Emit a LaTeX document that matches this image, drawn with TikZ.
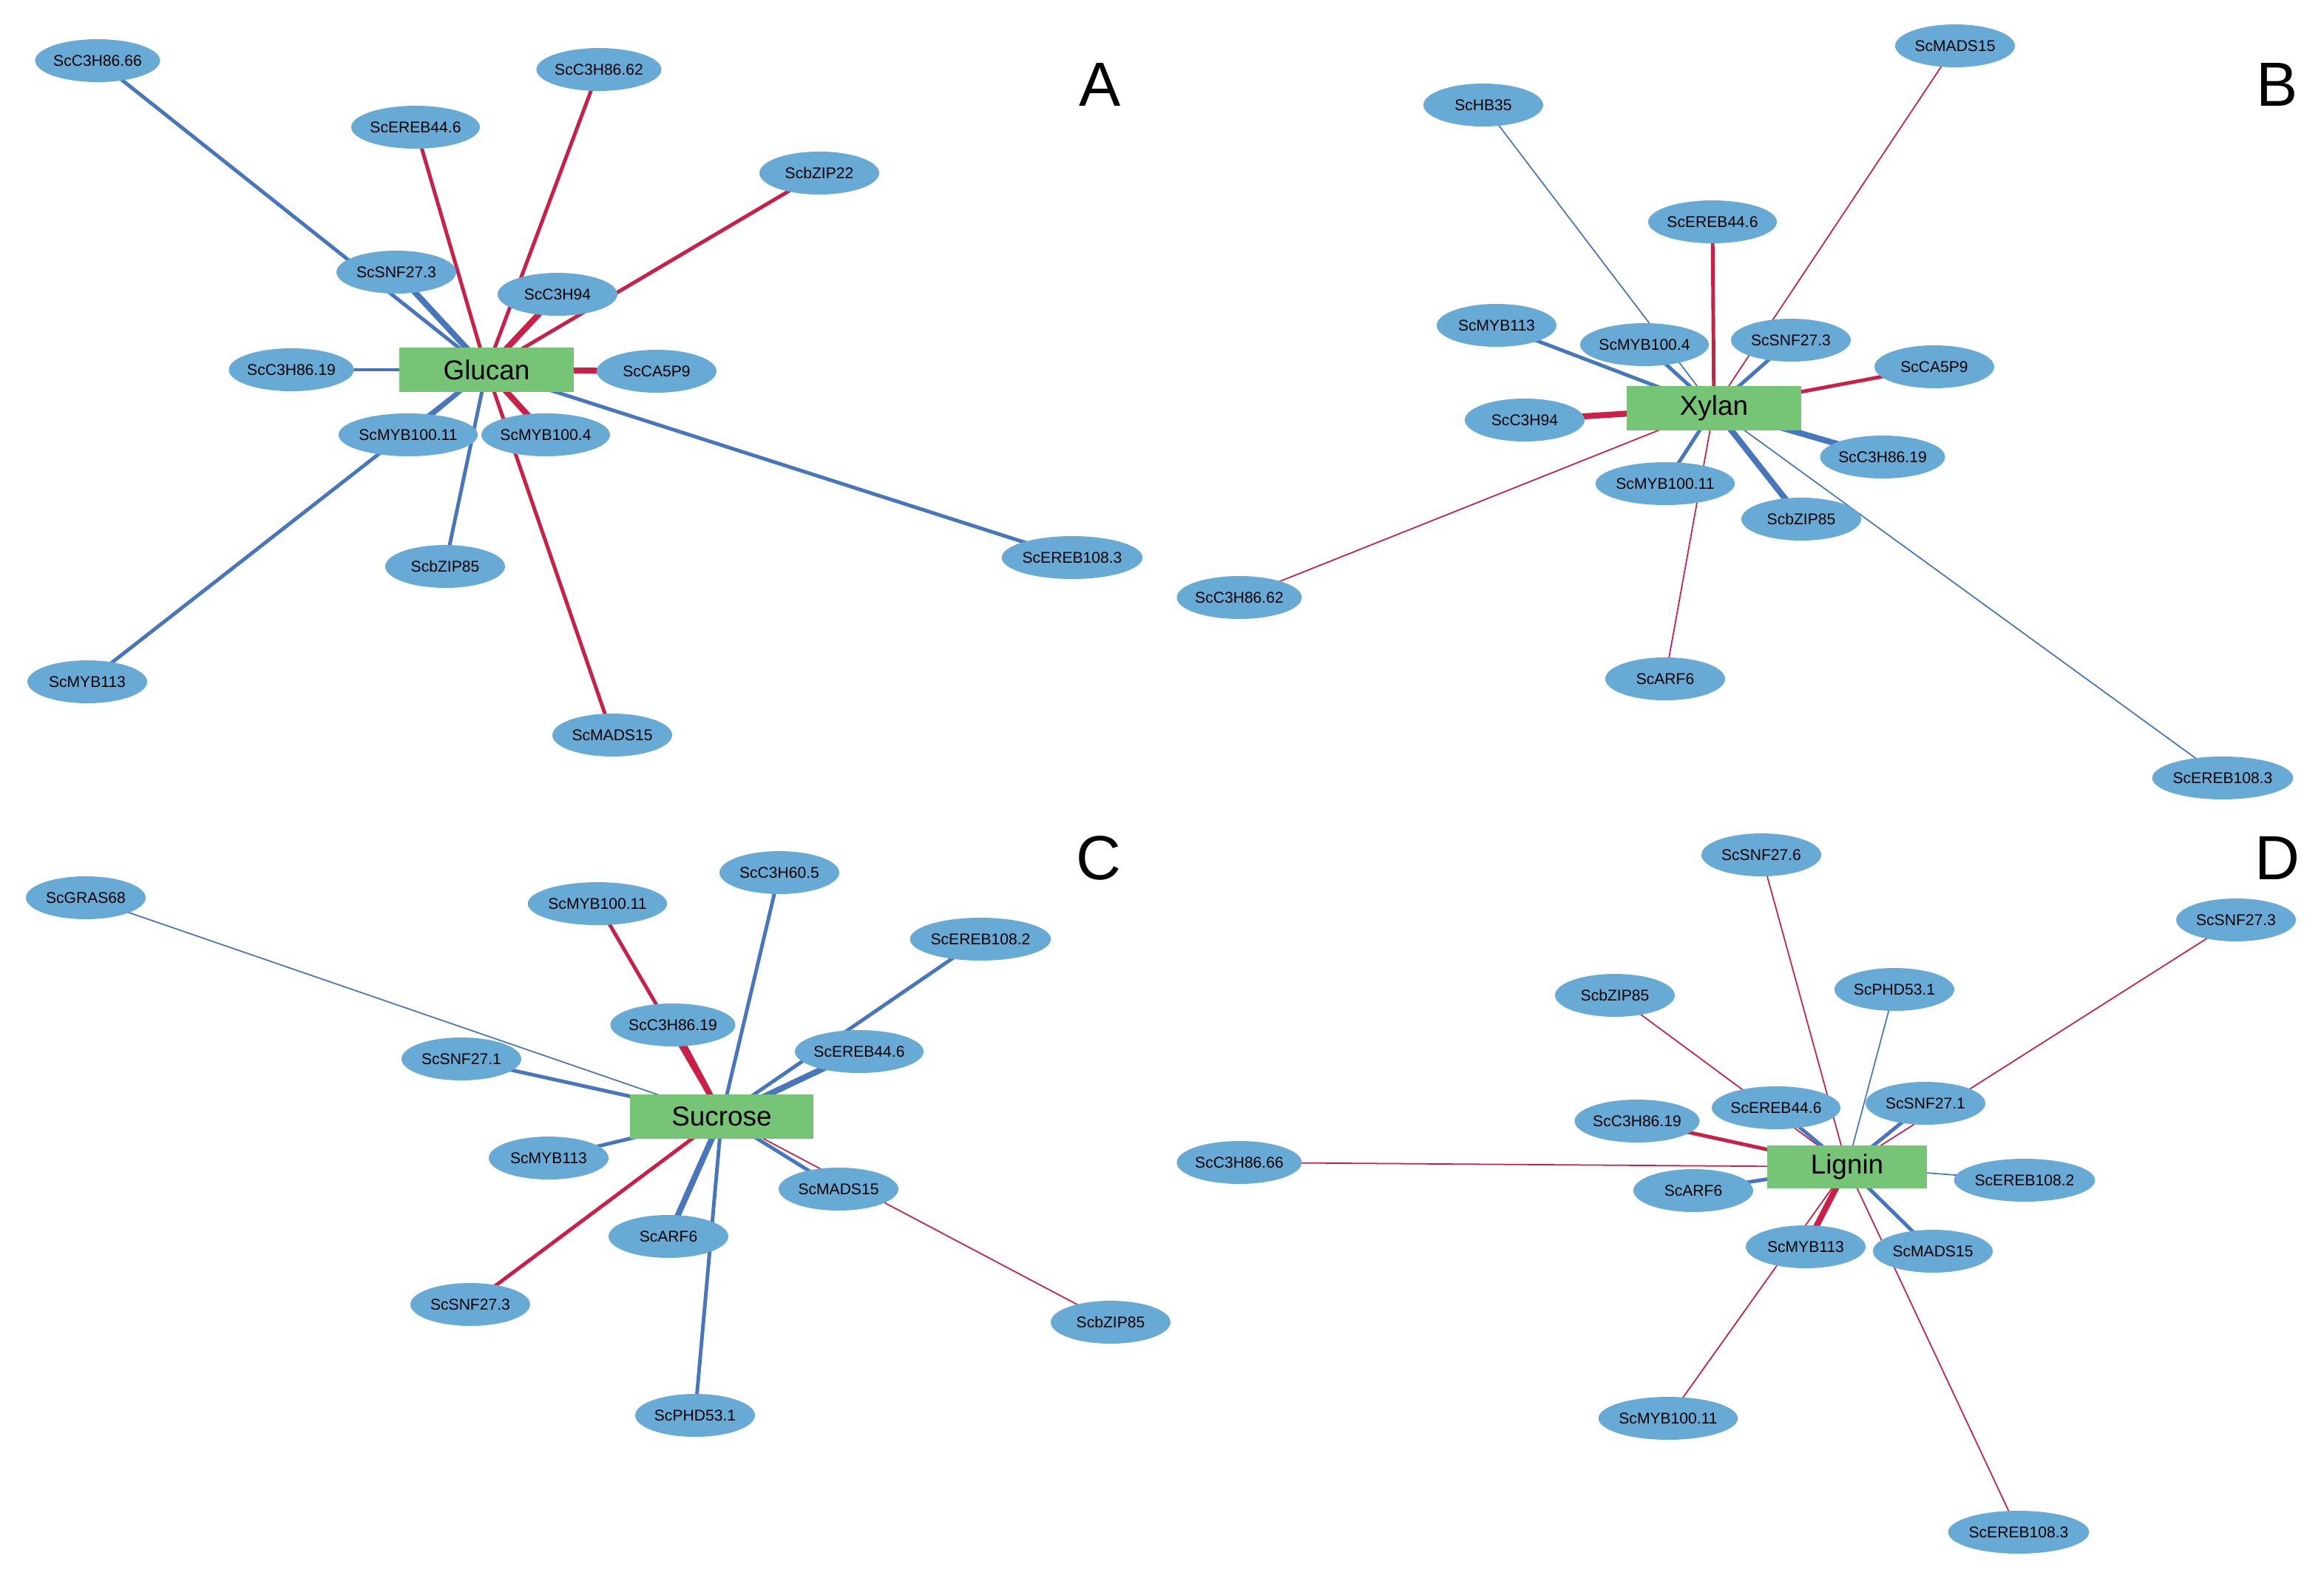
\documentclass[tikz,border=0pt]{standalone}
\usepackage{fontspec}
\setmainfont{Liberation Sans}
\usetikzlibrary{shapes.geometric,backgrounds}
\definecolor{nodeblue}{RGB}{104,170,214}
\definecolor{eblue}{RGB}{72,118,188}
\definecolor{ered}{RGB}{202,32,72}
\definecolor{boxgreen}{RGB}{118,196,118}
\begin{document}
\begin{tikzpicture}[x=0.02cm,y=-0.02cm,
 en/.style={ellipse,fill=nodeblue,minimum width=1.62cm,minimum height=0.58cm,inner sep=0pt,font=\fontsize{6}{7}\selectfont},
 box/.style={rectangle,fill=boxgreen,minimum width=2.36cm,minimum height=0.6cm,font=\fontsize{10.5}{12}\selectfont},
 lab/.style={font=\fontsize{24}{28}\selectfont},
 B1/.style={eblue,line width=0.5pt}, B2/.style={eblue,line width=1.4pt}, B3/.style={eblue,line width=2.3pt},
 R1/.style={ered,line width=0.5pt}, R2/.style={ered,line width=1.4pt}, R3/.style={ered,line width=2.3pt}]
\useasboundingbox (0,0) rectangle (1571.5,1069);
% Panel A
\node[box] (A) at (329,250) {Glucan};
\node[en] (a1) at (66,41) {ScC3H86.66};
\node[en] (a2) at (405,47) {ScC3H86.62};
\node[en] (a3) at (281,86) {ScEREB44.6};
\node[en] (a4) at (554,117) {ScbZIP22};
\node[en] (a5) at (268,184) {ScSNF27.3};
\node[en] (a6) at (377,199) {ScC3H94};
\node[en] (a7) at (197,250) {ScC3H86.19};
\node[en] (a8) at (444,251) {ScCA5P9};
\node[en] (a9) at (276,294) {ScMYB100.11};
\node[en] (a10) at (369,294) {ScMYB100.4};
\node[en] (a11) at (301,383) {ScbZIP85};
\node[en] (a12) at (725,377) {ScEREB108.3};
\node[en] (a13) at (59,461) {ScMYB113};
\node[en] (a14) at (414,497) {ScMADS15};
\node[lab] at (744,57) {A};
\begin{pgfonlayer}{background}
\draw[B2] (A.center)--(a1.center); \draw[R2] (A.center)--(a2.center);
\draw[R2] (A.center)--(a3.center); \draw[R2] (A.center)--(a4.center);
\draw[B3] (A.center)--(a5.center); \draw[R3] (A.center)--(a6.center);
\draw[B2] (A.center)--(a7.center); \draw[R3] (A.center)--(a8.center);
\draw[B2] (A.center)--(a9.center); \draw[R3] (A.center)--(a10.center);
\draw[B2] (A.center)--(a11.center); \draw[B2] (A.center)--(a12.center);
\draw[B2] (A.center)--(a13.center); \draw[R2] (A.center)--(a14.center);
\end{pgfonlayer}
% Panel B
\node[box] (X) at (1159,276) {Xylan};
\node[en] (b1) at (1322,31) {ScMADS15};
\node[en] (b2) at (1003,71) {ScHB35};
\node[en] (b3) at (1158,150) {ScEREB44.6};
\node[en] (b4) at (1012,220) {ScMYB113};
\node[en] (b5) at (1112,233) {ScMYB100.4};
\node[en] (b6) at (1211,230) {ScSNF27.3};
\node[en] (b7) at (1308,248) {ScCA5P9};
\node[en] (b8) at (1031,284) {ScC3H94};
\node[en] (b9) at (1273,309) {ScC3H86.19};
\node[en] (b10) at (1126,327) {ScMYB100.11};
\node[en] (b11) at (1218,351) {ScbZIP85};
\node[en] (b12) at (838,404) {ScC3H86.62};
\node[en] (b13) at (1126,459) {ScARF6};
\node[en] (b14) at (1503,526) {ScEREB108.3};
\node[lab] at (1540,57) {B};
\begin{pgfonlayer}{background}
\draw[R1] (X.center)--(b1.center); \draw[B1] (X.center)--(b2.center);
\draw[R2] (X.center)--(b3.center); \draw[B2] (X.center)--(b4.center);
\draw[B2] (X.center)--(b5.center); \draw[B2] (X.center)--(b6.center);
\draw[R2] (X.center)--(b7.center); \draw[R3] (X.center)--(b8.center);
\draw[B3] (X.center)--(b9.center); \draw[B2] (X.center)--(b10.center);
\draw[B3] (X.center)--(b11.center); \draw[R1] (X.center)--(b12.center);
\draw[R1] (X.center)--(b13.center); \draw[B1] (X.center)--(b14.center);
\end{pgfonlayer}
% Panel C
\node[box,minimum width=2.48cm] (S) at (488,755) {Sucrose};
\node[en] (c1) at (58,607) {ScGRAS68};
\node[en] (c2) at (404,611) {ScMYB100.11};
\node[en] (c3) at (527,590) {ScC3H60.5};
\node[en] (c4) at (663,635) {ScEREB108.2};
\node[en] (c5) at (455,693) {ScC3H86.19};
\node[en] (c6) at (312,716) {ScSNF27.1};
\node[en] (c7) at (581,711) {ScEREB44.6};
\node[en] (c8) at (371,783) {ScMYB113};
\node[en] (c9) at (567,804) {ScMADS15};
\node[en] (c10) at (452,836) {ScARF6};
\node[en] (c11) at (318,882) {ScSNF27.3};
\node[en] (c12) at (751,894) {ScbZIP85};
\node[en] (c13) at (470,957) {ScPHD53.1};
\node[lab] at (743,580) {C};
\begin{pgfonlayer}{background}
\draw[B1] (S.center)--(c1.center); \draw[R2] (S.center)--(c2.center);
\draw[B2] (S.center)--(c3.center); \draw[B2] (S.center)--(c4.center);
\draw[R3] (S.center)--(c5.center); \draw[B2] (S.center)--(c6.center);
\draw[B3] (S.center)--(c7.center); \draw[B2] (S.center)--(c8.center);
\draw[B2] (S.center)--(c9.center); \draw[B3] (S.center)--(c10.center);
\draw[R2] (S.center)--(c11.center); \draw[R1] (S.center)--(c12.center);
\draw[B2] (S.center)--(c13.center);
\end{pgfonlayer}
% Panel D
\node[box,minimum width=2.16cm,minimum height=0.52cm] (L) at (1249,789) {Lignin};
\node[en] (d1) at (1191,578) {ScSNF27.6};
\node[en] (d2) at (1512,622) {ScSNF27.3};
\node[en] (d3) at (1281,669) {ScPHD53.1};
\node[en] (d4) at (1092,673) {ScbZIP85};
\node[en] (d5) at (1201,749) {ScEREB44.6};
\node[en] (d6) at (1302,746) {ScSNF27.1};
\node[en] (d7) at (1107,758) {ScC3H86.19};
\node[en] (d8) at (838,786) {ScC3H86.66};
\node[en] (d9) at (1145,805) {ScARF6};
\node[en] (d10) at (1369,798) {ScEREB108.2};
\node[en] (d11) at (1221,843) {ScMYB113};
\node[en] (d12) at (1307,846) {ScMADS15};
\node[en] (d13) at (1128,959) {ScMYB100.11};
\node[en] (d14) at (1365,1036) {ScEREB108.3};
\node[lab] at (1540,580) {D};
\begin{pgfonlayer}{background}
\draw[R1] (L.center)--(d1.center); \draw[R1] (L.center)--(d2.center);
\draw[B1] (L.center)--(d3.center); \draw[R1] (L.center)--(d4.center);
\draw[B2] (L.center)--(d5.center); \draw[B2] (L.center)--(d6.center);
\draw[R2] (L.center)--(d7.center); \draw[R1] (L.center)--(d8.center);
\draw[B2] (L.center)--(d9.center); \draw[B1] (L.center)--(d10.center);
\draw[R3] (L.center)--(d11.center); \draw[B2] (L.center)--(d12.center);
\draw[R1] (L.center)--(d13.center); \draw[R1] (L.center)--(d14.center);
\end{pgfonlayer}
\end{tikzpicture}
\end{document}
